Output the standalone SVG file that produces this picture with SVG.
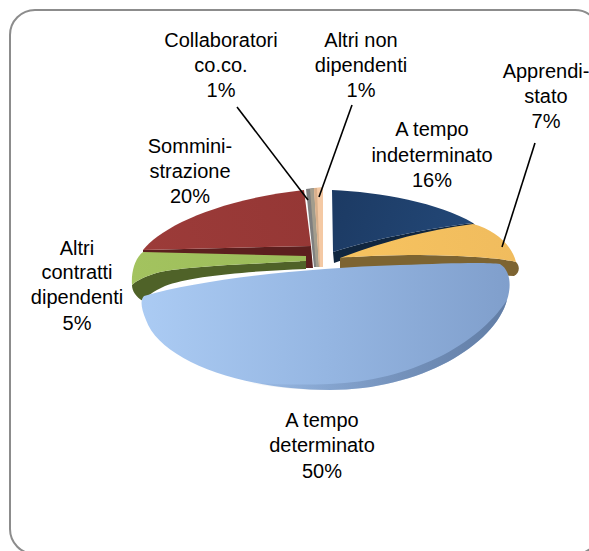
<svg xmlns="http://www.w3.org/2000/svg" width="589" height="551" viewBox="0 0 589 551">
<defs>
<style>
.lbl{font-family:"Liberation Sans",Arial,sans-serif;font-size:20px;fill:#000;text-anchor:middle}
.lead{stroke:#000;stroke-width:1.6;fill:none}
</style>
<linearGradient id="gBlue" x1="143" y1="300" x2="508" y2="300" gradientUnits="userSpaceOnUse">
<stop offset="0" stop-color="#abcbf3"/>
<stop offset="0.5" stop-color="#95b6e2"/>
<stop offset="1" stop-color="#809fcc"/>
</linearGradient>
<linearGradient id="gBlueRim" x1="240" y1="0" x2="508" y2="0" gradientUnits="userSpaceOnUse">
<stop offset="0" stop-color="#5d789f" stop-opacity="0"/>
<stop offset="1" stop-color="#5d789f" stop-opacity="0.85"/>
</linearGradient>
<linearGradient id="gNavy" x1="332" y1="190" x2="473" y2="240" gradientUnits="userSpaceOnUse">
<stop offset="0" stop-color="#1c3a63"/>
<stop offset="1" stop-color="#234878"/>
</linearGradient>
<linearGradient id="gRed" x1="143" y1="250" x2="310" y2="190" gradientUnits="userSpaceOnUse">
<stop offset="0" stop-color="#9c3b39"/>
<stop offset="1" stop-color="#953735"/>
</linearGradient>
<linearGradient id="gYel" x1="340" y1="258" x2="516" y2="230" gradientUnits="userSpaceOnUse">
<stop offset="0" stop-color="#f7c35f"/>
<stop offset="1" stop-color="#f0bc5e"/>
</linearGradient>
<linearGradient id="gGreen" x1="132" y1="260" x2="305" y2="260" gradientUnits="userSpaceOnUse">
<stop offset="0" stop-color="#a3c35f"/>
<stop offset="1" stop-color="#9bbb59"/>
</linearGradient>
</defs>
<rect x="10" y="10" width="590" height="544" rx="25" ry="25" fill="#fff" stroke="#8c8c8c" stroke-width="2"/>

<g id="slice-somministrazione">
<path d="M143,250 L311,246 L313,268 L300,268 L300,258 L143,254 Z" fill="#5c1f1e"/>
<path d="M143,250 C160,228 215,200 304,190 L311,246 Z" fill="url(#gRed)"/>
</g>
<g id="slice-altri-contratti">
<path d="M132,285 C136,281 145,276 160,272 C190,266 250,264 306,261 L306,269 C250,271 190,276 165,286 C152,292 146,297 143,301 C136,297 132,291 132,285 Z" fill="#4f6228"/>
<path d="M143,252 L306,256 L306,261 C250,264 190,266 160,272 C145,276 136,281 132,285 C131,272 135,258 143,252 Z" fill="url(#gGreen)"/>
</g>
<g id="slice-collaboratori">
<path d="M306,189 L314,188 L319,267 L314,267 Z" fill="#7f7f7f"/>
<path d="M310,189 L314,188 L319,267 L316,267 Z" fill="#a39d8d"/>
</g>
<g id="slice-altri-non-dipendenti">
<path d="M314,188 L323,187 L323,267 L319,267 Z" fill="#f4c9a4"/>
<path d="M314,188 L317,188 L320,267 L319,267 Z" fill="#d9b08c"/>
</g>
<g id="slice-indeterminato">
<path d="M333,252 C370,240 430,228 473,223 L479,229 C430,236 370,250 334,263 Z" fill="#10263f"/>
<path d="M332,190 C380,192 440,203 473,223 C430,228 370,240 333,252 Z" fill="url(#gNavy)"/>
</g>
<g id="slice-apprendistato">
<path d="M340,258 C360,256 390,255 420,255 C470,256 500,258 516,262 C520,266 520,273 514,276 L340,269 Z" fill="#7d6431"/>
<path d="M340,258 C380,243 425,230 473,224 C495,230 512,245 516,262 C500,258 470,256 420,255 C390,255 360,256 340,258 Z" fill="url(#gYel)"/>
</g>
<g id="slice-determinato">
<path d="M144,296 C200,280 300,268 400,265 C450,263 488,262 500,264 C510,270 512,285 507,300 C495,345 420,390 330,390 C240,390 160,360 146,320 C141,308 140,300 144,296 Z" fill="url(#gBlue)"/>
<path d="M507,300 C495,345 420,390 330,390 C300,390 270,387 245,382 C275,385 305,385 330,384 C410,381 478,345 507,300 Z" fill="url(#gBlueRim)"/>
</g>

<g id="connectors">
<line class="lead" x1="535" y1="143" x2="502" y2="247"/>
<line class="lead" x1="237" y1="107" x2="308" y2="200"/>
<line class="lead" x1="352" y1="105" x2="319" y2="197"/>
</g>

<g id="labels">
<text class="lbl" x="221" y="47">Collaboratori</text>
<text class="lbl" x="221" y="72">co.co.</text>
<text class="lbl" x="221" y="97">1%</text>
<text class="lbl" x="361" y="47">Altri non</text>
<text class="lbl" x="361" y="72">dipendenti</text>
<text class="lbl" x="361" y="97">1%</text>
<text class="lbl" x="546" y="78">Apprendi-</text>
<text class="lbl" x="546" y="103">stato</text>
<text class="lbl" x="546" y="128">7%</text>
<text class="lbl" x="432" y="136">A tempo</text>
<text class="lbl" x="432" y="161.5">indeterminato</text>
<text class="lbl" x="432" y="187">16%</text>
<text class="lbl" x="190" y="153">Sommini-</text>
<text class="lbl" x="190" y="178">strazione</text>
<text class="lbl" x="190" y="203">20%</text>
<text class="lbl" x="77" y="255">Altri</text>
<text class="lbl" x="77" y="279">contratti</text>
<text class="lbl" x="77" y="304">dipendenti</text>
<text class="lbl" x="77" y="330">5%</text>
<text class="lbl" x="322" y="427">A tempo</text>
<text class="lbl" x="322" y="452">determinato</text>
<text class="lbl" x="322" y="478">50%</text>
</g>
</svg>
